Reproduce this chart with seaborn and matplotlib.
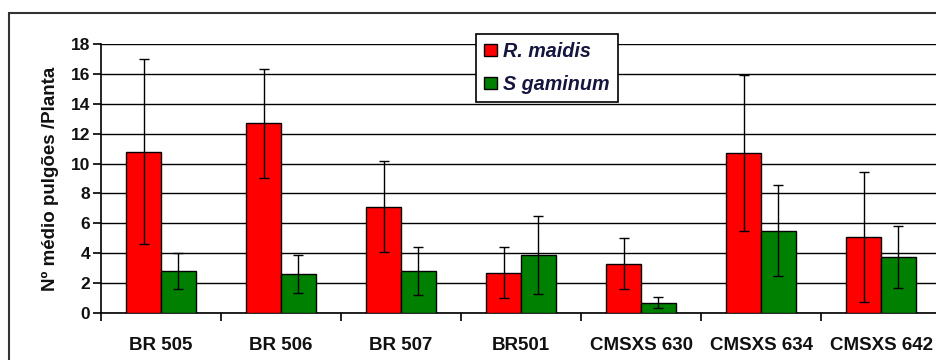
import matplotlib
matplotlib.use("Agg")
import matplotlib.pyplot as plt
import seaborn as sns
import pandas as pd
from matplotlib.patches import Rectangle, Patch

categories = ["BR 505", "BR 506", "BR 507", "BR501", "CMSXS 630", "CMSXS 634", "CMSXS 642"]
series = ["R. maidis", "S gaminum"]
r_maidis = [10.8, 12.7, 7.1, 2.7, 3.3, 10.7, 5.1]
r_maidis_err = [6.2, 3.65, 3.05, 1.7, 1.7, 5.2, 4.35]
s_gaminum = [2.8, 2.6, 2.8, 3.9, 0.7, 5.5, 3.75]
s_gaminum_err = [1.2, 1.25, 1.6, 2.6, 0.35, 3.05, 2.1]
colors = ["#FF0000", "#008000"]

df = pd.DataFrame({
    "cat": categories * 2,
    "serie": [series[0]] * len(categories) + [series[1]] * len(categories),
    "val": r_maidis + s_gaminum,
})
errs = [r_maidis_err, s_gaminum_err]

sns.set_theme(style="white")
plt.rcParams["font.family"] = ["Liberation Sans", "DejaVu Sans"]

fig = plt.figure(figsize=(9.37, 3.6), dpi=100)
ax = fig.add_axes([101/937, 47/360, 840/937, 269/360])

sns.barplot(data=df, x="cat", y="val", hue="serie", order=categories, hue_order=series,
            palette=colors, width=0.58, errorbar=None, edgecolor="black", linewidth=1.0,
            saturation=1, ax=ax, legend=False, zorder=3)

for cont, err in zip(ax.containers, errs):
    xs = [b.get_x() + b.get_width() / 2 for b in cont]
    ys = [b.get_height() for b in cont]
    ax.errorbar(xs, ys, yerr=err, fmt="none", ecolor="black", elinewidth=1.0,
                capsize=3.8, capthick=1.0, zorder=4)

ax.set_xlim(-0.5, len(categories) - 0.5)
ax.set_ylim(0, 18)
ax.set_yticks(range(0, 19, 2))
ax.yaxis.grid(True, color="black", linewidth=1.0, zorder=0)
ax.set_axisbelow(True)
for s in ["top", "right"]:
    ax.spines[s].set_visible(False)
for s in ["left", "bottom"]:
    ax.spines[s].set_color("black")
    ax.spines[s].set_linewidth(1.2)

ax.set_xticks(range(len(categories)))
ax.set_xticklabels(categories, fontsize=13.5, fontweight="bold", color="#111111")
ax.set_xticks([i - 0.5 for i in range(len(categories) + 1)], minor=True)
ax.tick_params(axis="x", which="major", length=0, pad=17)
ax.tick_params(axis="x", which="minor", length=6, width=1.2, color="black", direction="out", bottom=True)
ax.tick_params(axis="y", length=6, width=1.2, color="black", direction="out", left=True,
               labelsize=12.5, pad=2)
for t in ax.get_yticklabels():
    t.set_fontweight("bold")
    t.set_color("#111111")

ax.set_xlabel("")
ax.set_ylabel("Nº médio pulgões /Planta", fontsize=13.5, fontweight="bold", labelpad=8, color="#111111")

handles = [Patch(facecolor=c, edgecolor="black", linewidth=1.0) for c in colors]
leg = fig.legend(handles, series, loc="upper left", bbox_to_anchor=(476/937, 1 - 34/360),
                 borderaxespad=0, frameon=True, fancybox=False, edgecolor="black", framealpha=1,
                 handlelength=0.65, handleheight=0.55, handletextpad=0.3,
                 borderpad=0.42, labelspacing=0.7,
                 prop={"style": "italic", "weight": "bold", "size": 14.2})
leg.get_frame().set_linewidth(1.2)
for t in leg.get_texts():
    t.set_color("#151540")

frame = Rectangle((9/937, -0.1), 1.2, 1.1 - 13/360, transform=fig.transFigure,
                  fill=False, edgecolor="#333333", linewidth=1.5)
fig.patches.append(frame)

fig.savefig("out.png", dpi=100)
